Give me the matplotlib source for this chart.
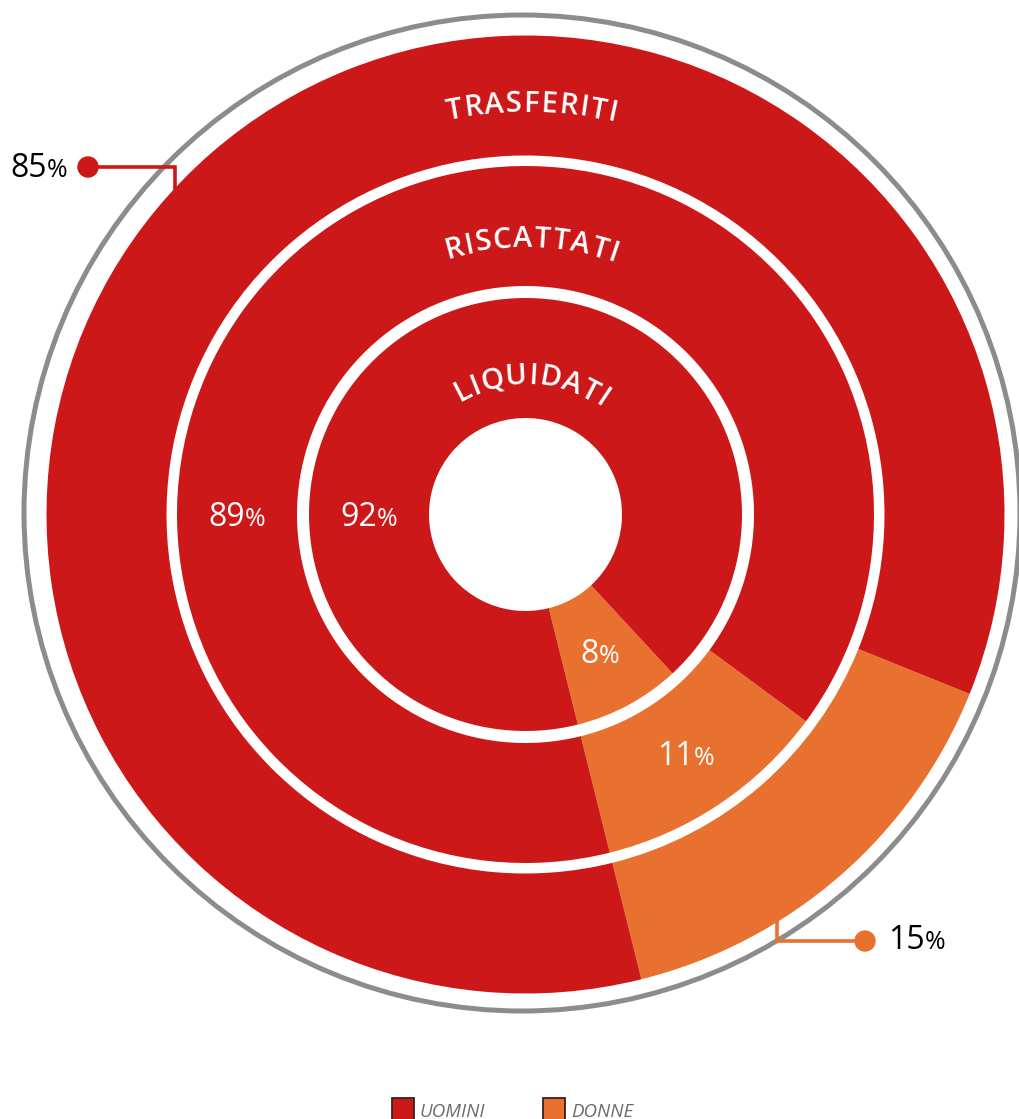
import numpy as np
import matplotlib
matplotlib.use('Agg')
import matplotlib.pyplot as plt
from matplotlib.patches import Circle, Rectangle

W, H = 1020, 1119

# dati
anelli = ['LIQUIDATI', 'RISCATTATI', 'TRASFERITI']
uomini = [92, 89, 85]
donne = [8, 11, 15]
legenda = ['UOMINI', 'DONNE']

ROSSO = '#CD181A'
ARANCIO = '#E9712F'
GRIGIO = '#8C8C8C'

# geometria in pixel (y verso l'alto)
cx, cy = 525.5, H - 514.5
raggi = [216.5, 348.5, 479.0]
spessore = 120
start = 284

plt.rcParams['font.family'] = ['Open Sans', 'DejaVu Sans']
fig = plt.figure(figsize=(W / 100, H / 100), dpi=100)
ax = fig.add_axes([0, 0, 1, 1])
rend = fig.canvas.get_renderer()

for i in range(3):
    ax.pie([donne[i], uomini[i]], colors=[ARANCIO, ROSSO], startangle=start,
           counterclock=True, radius=raggi[i], center=(cx, cy),
           wedgeprops=dict(width=spessore, linewidth=0))

ax.add_patch(Circle((cx - 3.5, H - 513), 498, fill=False, ec=GRIGIO, lw=3.6))

ax.set_xlim(0, W)
ax.set_ylim(0, H)
ax.set_aspect('auto')
ax.axis('off')


def percento(x, y, num, colore, ha='center', size=23):
    t1 = ax.text(0, 0, num, fontsize=size, color=colore, va='baseline')
    t2 = ax.text(0, 0, '%', fontsize=size * 0.78, color=colore, va='baseline')
    w1 = t1.get_window_extent(rend).width
    w2 = t2.get_window_extent(rend).width
    if ha == 'center':
        x0 = x - (w1 + w2) / 2
    elif ha == 'left':
        x0 = x
    else:
        x0 = x - w1 - w2
    t1.set_position((x0, y))
    t2.set_position((x0 + w1, y))


def polare(r, ang):
    a = np.radians(ang)
    return cx + r * np.cos(a), cy + r * np.sin(a)


# etichette interne (anelli 1 e 2)
for i in range(2):
    rm = raggi[i] - spessore / 2
    x, y = polare(rm, 180)
    percento(x, y - 11, str(uomini[i]), 'white')
    mid = start + donne[i] / 100 * 360 / 2
    x, y = polare(rm, mid)
    percento(x, y - 11, str(donne[i]), 'white')

# etichette esterne con richiamo (anello 3)
ly = H - 167
ax_, ay_ = polare(raggi[2], 137)
ax.plot([88, ax_, ax_], [ly, ly, ay_], color=ROSSO, lw=2.6, solid_joinstyle='miter')
ax.add_patch(Circle((88, ly), 10, color=ROSSO))
percento(10, H - 177, str(uomini[2]), 'black', ha='left')

ly = H - 941
bx_, by_ = polare(raggi[2] - 5, 302)
ax.plot([865, bx_, bx_], [ly, ly, by_], color=ARANCIO, lw=2.6, solid_joinstyle='miter')
ax.add_patch(Circle((865, ly), 10, color=ARANCIO))
percento(888, H - 949, str(donne[2]), 'black', ha='left')


# nomi degli anelli, su arco
def testo_arco(testo, r, size=21, track=1.8, shift=6):
    larg = []
    for ch in testo:
        t = ax.text(0, 0, ch, fontsize=size, fontweight='semibold')
        larg.append(t.get_window_extent(rend).width)
        t.remove()
    tot = sum(larg) + track * (len(testo) - 1)
    s = -tot / 2 + shift
    for ch, w in zip(testo, larg):
        c = s + w / 2
        ang = 90 - np.degrees(c / r)
        x, y = polare(r, ang)
        ax.text(x, y, ch, fontsize=size, fontweight='semibold', color='white',
                ha='center', va='center', rotation=ang - 90, rotation_mode='anchor')
        s += w + track


testo_arco(anelli[2], 410)
testo_arco(anelli[1], 275)
testo_arco(anelli[0], 138)

# legenda
ax.add_patch(Rectangle((392, H - 1120), 22, 22, fc=ROSSO, ec='#3a2020', lw=1.3))
ax.text(420, H - 1117, legenda[0], fontsize=13.5, style='italic', color='#6b6b6b', va='baseline')
ax.add_patch(Rectangle((543.5, H - 1120), 22, 22, fc=ARANCIO, ec='#3a2020', lw=1.3))
ax.text(571, H - 1117, legenda[1], fontsize=13.5, style='italic', color='#6b6b6b', va='baseline')

fig.savefig('out.png', dpi=100)
